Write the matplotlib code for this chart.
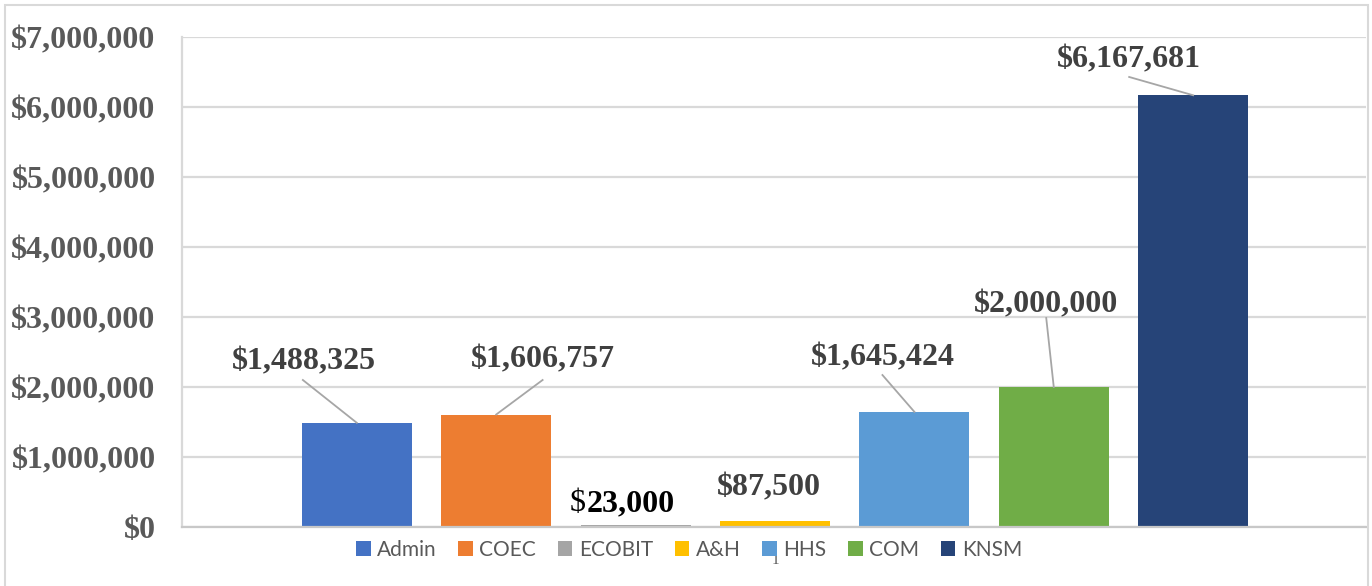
import matplotlib
matplotlib.use("Agg")
import matplotlib.pyplot as plt
from matplotlib.patches import Rectangle, Patch

# ---- data ----
categories = ["Admin", "COEC", "ECOBIT", "A&H", "HHS", "COM", "KNSM"]
values = [1488325, 1606757, 23000, 87500, 1645424, 2000000, 6167681]
colors = ["#4472C4", "#ED7D31", "#A5A5A5", "#FFC000", "#5B9BD5", "#70AD47", "#264478"]
yticks = [0, 1000000, 2000000, 3000000, 4000000, 5000000, 6000000, 7000000]

# ---- layout (label placement, in data units) ----
label_pos = [(-0.380, 2.257e6), (1.333, 2.286e6), (1.649, 0.229e6), (2.953, 0.457e6),
             (3.771, 2.314e6), (4.946, 3.071e6), (5.541, 6.571e6)]
leader_start = [(-0.387, 2.10e6), (1.333, 2.10e6), None, None,
                (3.771, 2.171e6), (4.946, 2.986e6), (5.541, 6.429e6)]

W, H = 1372, 586
fig = plt.figure(figsize=(W / 100, H / 100), dpi=100)
fig.patches.append(Rectangle((5 / W, -0.01), (1368 - 5) / W, (H - 5) / H + 0.01,
                             transform=fig.transFigure, fill=False,
                             edgecolor="#d9d9d9", linewidth=1.5))

ax = fig.add_axes([182 / W, 1 - 527 / H, (1366 - 182) / W, (527 - 37) / H])
x = list(range(len(categories)))
ax.bar(x, values, width=0.79, color=colors, zorder=3)
ax.set_xlim(-1.254, 6 + 1.24)
ax.set_ylim(0, 7000000)
ax.set_yticks(yticks)
ax.set_yticklabels(["${:,.0f}".format(v) for v in yticks],
                   fontfamily="Liberation Serif", fontweight="bold",
                   fontsize=23, color="#595959")
ax.tick_params(axis="y", length=0, pad=19)
ax.set_xticks([])
ax.grid(axis="y", color="#d9d9d9", linewidth=1.6, zorder=0)
for s in ["top", "right"]:
    ax.spines[s].set_visible(False)
ax.spines["left"].set_color("#d9d9d9")
ax.spines["left"].set_linewidth(1.6)
ax.spines["bottom"].set_color("#c8c8c8")
ax.spines["bottom"].set_linewidth(1.6)
ax.spines["bottom"].set_zorder(4)

lab_font = dict(fontfamily="Liberation Serif", fontweight="bold", fontsize=23)
for i, (v, (lx, ly), ls) in enumerate(zip(values, label_pos, leader_start)):
    if categories[i] == "ECOBIT":
        ax.text(lx, ly, "{:,.0f}".format(v), ha="left", va="baseline",
                color="black", **lab_font)
        ax.text(lx - 0.01, ly, "$", ha="right", va="baseline", color="black",
                fontfamily="Liberation Serif", fontsize=23)
    else:
        ax.text(lx, ly, "${:,.0f}".format(v), ha="center", va="baseline",
                color="#404040", **lab_font)
    if ls is not None:
        ax.plot([ls[0], i], [ls[1], v], color="#a6a6a6", linewidth=1.3, zorder=5)

handles = [Patch(facecolor=c, edgecolor="none") for c in colors]
fig.legend(handles, categories, loc="center", bbox_to_anchor=(689 / W, 1 - 550 / H),
           ncol=7, frameon=False, prop=dict(family="Lato", size=15),
           labelcolor="#595959", handlelength=0.7, handleheight=0.7,
           handletextpad=0.3, columnspacing=1.05)
fig.text(775 / W, 1 - 561 / H, "1", ha="center", va="center",
         fontfamily="Liberation Serif", fontsize=11, color="#595959")

fig.savefig("out.png", dpi=100)
